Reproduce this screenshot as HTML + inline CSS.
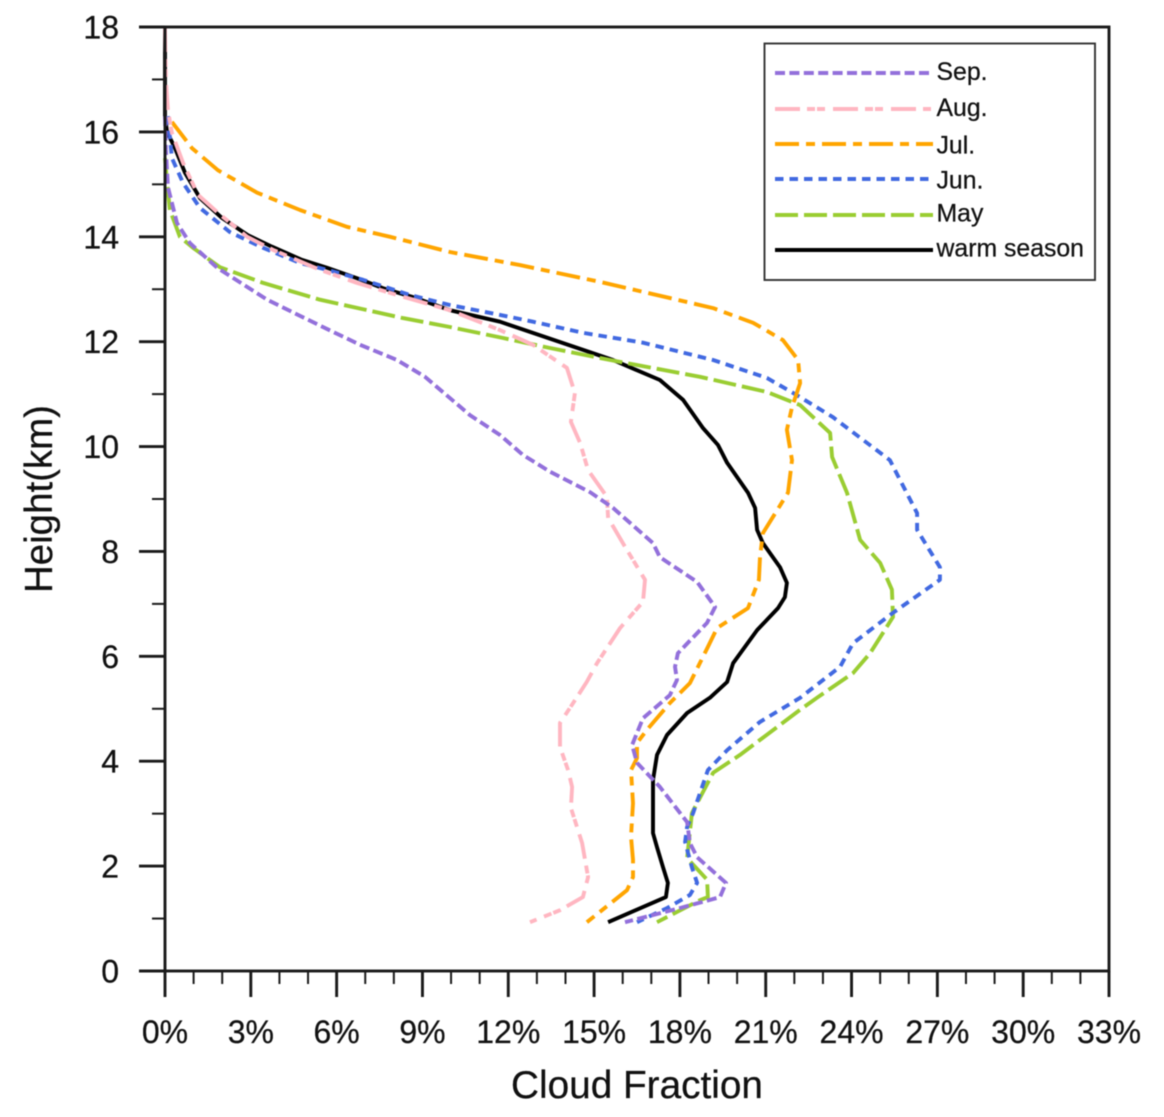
<!DOCTYPE html>
<html lang="en">
<head>
<meta charset="utf-8">
<title>Cloud Fraction by Height</title>
<style>
html,body{margin:0;padding:0;background:#fff;width:1164px;height:1117px;overflow:hidden}
svg{display:block;filter:blur(0.45px)}
text{font-family:"Liberation Sans",Arial,sans-serif;fill:#111;stroke:#111;stroke-width:0.25px}
</style>
</head>
<body>
<svg id="chart" xmlns="http://www.w3.org/2000/svg" width="1164" height="1117" viewBox="0 0 1164 1117">
  <rect x="0" y="0" width="1164" height="1117" fill="#fff"/>
  <g id="series-layer"></g>
  <g id="axes-layer"></g>
  <text x="637" y="1098" font-size="38.5" text-anchor="middle" textLength="252" lengthAdjust="spacingAndGlyphs">Cloud Fraction</text>
  <text transform="translate(52,499) rotate(-90)" font-size="38.5" text-anchor="middle" textLength="188" lengthAdjust="spacingAndGlyphs">Height(km)</text>
  <g id="legend-layer"></g>
</svg>
<script>
// Axis tick data
const xTickValues = [0, 3, 6, 9, 12, 15, 18, 21, 24, 27, 30, 33];
const xTickLabels = ["0%", "3%", "6%", "9%", "12%", "15%", "18%", "21%", "24%", "27%", "30%", "33%"];
const yTickValues = [0, 2, 4, 6, 8, 10, 12, 14, 16, 18];
const yTickLabels = ["0", "2", "4", "6", "8", "10", "12", "14", "16", "18"];

// Series data: height (km) and cloud fraction (%)
const warmHeights = [18, 16.3, 16.0, 15.69, 15.22, 14.74, 14.36, 14.03, 13.81, 13.56, 13.41, 13.21, 13.02, 12.85, 12.6, 12.38, 11.65, 11.27, 10.89, 10.35, 10.03, 9.69, 9.12, 8.83, 8.41, 8.16, 7.7, 7.4, 7.13, 6.92, 6.5, 5.87, 5.51, 5.21, 4.92, 4.5, 4.12, 3.64, 2.63, 2.36, 1.98, 1.68, 1.41, 0.93];
const warmValues = [0, 0, 0.07, 0.35, 0.7, 1.22, 1.99, 2.9, 3.74, 4.79, 5.66, 6.71, 7.62, 8.67, 9.96, 11.71, 15.66, 17.3, 18.11, 18.81, 19.33, 19.65, 20.38, 20.63, 20.7, 20.9, 21.5, 21.74, 21.67, 21.43, 20.7, 19.86, 19.65, 19.05, 18.25, 17.55, 17.2, 17.06, 17.06, 17.2, 17.41, 17.58, 17.51, 15.49];

const mayHeights = [15.5, 15.03, 14.51, 14.0, 13.79, 13.42, 13.12, 12.8, 12.45, 12.28, 12.07, 11.88, 11.65, 11.33, 11.04, 10.79, 10.26, 9.8, 9.12, 8.22, 7.78, 7.27, 6.75, 6.06, 5.68, 5.21, 4.98, 4.12, 3.78, 3.01, 2.15, 1.74, 1.41, 1.35, 0.93];
const mayValues = [0, 0.07, 0.17, 0.52, 0.98, 1.92, 3.43, 5.42, 8.32, 9.96, 11.82, 13.46, 15.56, 18.7, 21.04, 22.2, 23.25, 23.32, 23.84, 24.3, 25.0, 25.41, 25.45, 24.65, 24.05, 22.79, 22.2, 20.1, 19.16, 18.42, 18.25, 18.95, 18.98, 18.7, 17.2];

const junHeights = [16.3, 15.5, 15.03, 14.55, 14.09, 13.79, 13.5, 13.37, 13.18, 12.89, 12.7, 12.51, 12.38, 12.17, 11.98, 11.65, 11.31, 10.98, 10.56, 9.74, 8.73, 8.41, 7.7, 7.46, 6.83, 6.25, 5.8, 5.21, 4.75, 4.21, 3.83, 3.01, 2.75, 2.46, 1.98, 1.68, 1.45, 1.2, 0.93];
const junValues = [0.1, 0.24, 0.63, 1.22, 2.27, 3.43, 4.72, 5.66, 6.92, 8.56, 9.96, 11.71, 12.86, 14.61, 16.71, 19.16, 21.04, 22.09, 23.35, 25.34, 26.29, 26.29, 27.09, 27.09, 25.45, 24.05, 23.6, 22.2, 20.8, 19.65, 18.98, 18.46, 18.25, 18.18, 18.42, 18.6, 18.35, 17.55, 16.5];

const julHeights = [16.19, 15.69, 15.27, 14.84, 14.51, 14.19, 14.0, 13.71, 13.46, 13.14, 12.8, 12.64, 12.36, 12.03, 11.65, 11.21, 10.75, 10.32, 9.74, 9.12, 8.35, 7.89, 7.46, 6.92, 6.54, 6.18, 5.49, 5.11, 4.6, 4.35, 4.06, 3.83, 3.2, 2.56, 2.12, 1.79, 1.54, 0.93];
const julValues = [0.24, 0.94, 1.85, 3.22, 4.72, 6.36, 7.87, 9.96, 12.41, 15.21, 17.9, 19.16, 20.56, 21.6, 22.13, 22.2, 21.92, 21.74, 21.92, 21.78, 20.9, 20.8, 20.76, 20.38, 19.3, 18.98, 18.35, 17.65, 16.85, 16.5, 16.5, 16.29, 16.36, 16.29, 16.36, 16.36, 16.15, 14.75];

const augHeights = [18, 16.99, 16.42, 15.98, 15.41, 14.8, 14.47, 14.0, 13.75, 13.37, 13.12, 12.89, 12.6, 12.22, 11.94, 11.5, 11.02, 10.47, 10.07, 9.55, 9.04, 8.64, 8.09, 7.46, 7.04, 6.54, 5.87, 5.51, 5.02, 4.73, 4.27, 3.83, 3.51, 3.11, 2.44, 1.79, 1.41, 1.16, 0.93];
const augValues = [0, 0.03, 0.1, 0.24, 0.63, 1.15, 1.82, 2.87, 3.78, 5.42, 6.71, 8.11, 9.96, 11.71, 12.86, 14.05, 14.33, 14.19, 14.51, 14.79, 15.45, 15.49, 16.08, 16.78, 16.71, 15.91, 15.1, 14.74, 14.16, 13.81, 13.81, 14.09, 14.23, 14.19, 14.58, 14.79, 14.61, 13.81, 12.76];

const sepHeights = [16.3, 15.66, 14.95, 14.26, 13.88, 13.41, 12.8, 12.28, 11.94, 11.65, 11.33, 10.6, 10.22, 9.84, 9.52, 9.13, 8.83, 8.16, 7.89, 7.42, 6.94, 6.64, 6.06, 5.8, 5.55, 5.26, 4.82, 4.31, 3.97, 3.51, 2.84, 2.44, 2.17, 1.68, 1.41, 1.2, 0.93];
const sepValues = [0, 0.03, 0.1, 0.42, 0.87, 1.82, 3.57, 5.52, 6.82, 8.11, 9.09, 10.66, 11.71, 12.51, 13.46, 14.86, 15.66, 17.06, 17.3, 18.6, 19.23, 18.95, 17.93, 17.83, 17.9, 17.65, 16.71, 16.33, 16.5, 17.3, 18.25, 18.35, 18.6, 19.61, 19.4, 18.0, 16.08];

const SVG_NS = "http://www.w3.org/2000/svg";

// Axis functions
function xScale(v) { return 165 + v * (944 / 33); }
function yScale(v) { return 971 - v * (944 / 18); }

function make(tag, attrs, parent) {
  const el = document.createElementNS(SVG_NS, tag);
  for (const k in attrs) el.setAttribute(k, attrs[k]);
  parent.appendChild(el);
  return el;
}

const seriesLayer = document.getElementById("series-layer");
const axesLayer = document.getElementById("axes-layer");
const legendLayer = document.getElementById("legend-layer");

// Series in draw order; the legend lists them in reverse
const seriesList = [
  { key: "warm-season", label: "warm season", h: warmHeights, v: warmValues, color: "#000000", dash: "none", lineY: 250, textY: 256.5 },
  { key: "may", label: "May", h: mayHeights, v: mayValues, color: "#9acd32", dash: "23 6", lineY: 215, textY: 221.5 },
  { key: "jun", label: "Jun.", h: junHeights, v: junValues, color: "#4169e1", dash: "8.5 6", lineY: 179, textY: 188.5 },
  { key: "jul", label: "Jul.", h: julHeights, v: julValues, color: "#ffa500", dash: "24 7 9 7", lineY: 144, textY: 153.5 },
  { key: "aug", label: "Aug.", h: augHeights, v: augValues, color: "#ffb6c1", dash: "25 7 8 2 8 8", lineY: 109, textY: 116 },
  { key: "sep", label: "Sep.", h: sepHeights, v: sepValues, color: "#9370db", dash: "10 4.4", lineY: 73, textY: 80 }
];

seriesList.forEach(function (s) {
  const pts = s.v.map(function (val, i) {
    return xScale(val).toFixed(1) + "," + yScale(s.h[i]).toFixed(1);
  }).join(" ");
  const line = make("polyline", {
    points: pts, fill: "none", stroke: s.color, "stroke-width": 3.9,
    "stroke-linejoin": "round", "stroke-dasharray": s.dash
  }, seriesLayer);
  
  
});

// Axes frame
const axisColor = "#1a1a1a";
const frame = make("rect", {
  x: xScale(0), y: yScale(18), width: xScale(33) - xScale(0), height: yScale(0) - yScale(18),
  fill: "none", stroke: axisColor, "stroke-width": 2.9
}, axesLayer);



// X ticks (minor every 1%)
for (let m = 0; m <= 33; m++) {
  const major = m % 3 === 0;
  const t = make("line", {
    x1: xScale(m), x2: xScale(m), y1: yScale(0), y2: yScale(0) + (major ? 26 : 13),
    stroke: axisColor, "stroke-width": major ? 2.9 : 2
  }, axesLayer);
  
  
}

// Y ticks (minor every 1 km)
for (let m = 0; m <= 18; m++) {
  const major = m % 2 === 0;
  const t = make("line", {
    x1: xScale(0) - (major ? 26 : 13), x2: xScale(0), y1: yScale(m), y2: yScale(m),
    stroke: axisColor, "stroke-width": major ? 2.9 : 2
  }, axesLayer);
  
  
}

xTickValues.forEach(function (v, i) {
  const t = make("text", { x: xScale(v), y: 1043, "font-size": 32, "text-anchor": "middle" }, axesLayer);
  t.textContent = xTickLabels[i];
  
  
});

yTickValues.forEach(function (v, i) {
  const t = make("text", { x: 119, y: yScale(v) + 11.5, "font-size": 32, "text-anchor": "end" }, axesLayer);
  t.textContent = yTickLabels[i];
  
  
});

// Legend
const legendBox = make("rect", {
  x: 764.5, y: 43.5, width: 330.5, height: 236.5, fill: "#fff", stroke: "#333", "stroke-width": 1.9
}, legendLayer);



seriesList.forEach(function (s) {
  const sw = make("line", {
    x1: 775, x2: 933, y1: s.lineY, y2: s.lineY, stroke: s.color, "stroke-width": 3.9,
    "stroke-dasharray": s.dash
  }, legendLayer);
  
  
  const t = make("text", { x: 936.5, y: s.textY, "font-size": 24.8 }, legendLayer);
  t.textContent = s.label;
  
  
});
</script>
</body>
</html>
